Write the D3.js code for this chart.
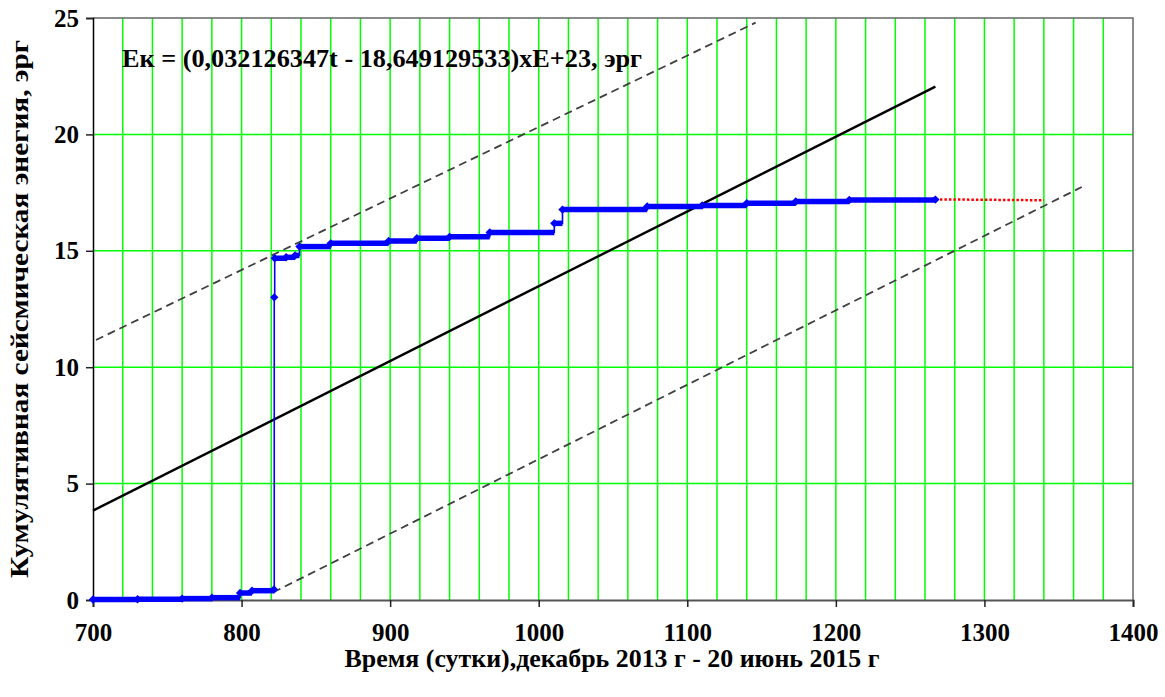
<!DOCTYPE html>
<html>
<head>
<meta charset="utf-8">
<script src="https://cdn.jsdelivr.net/npm/d3@7/dist/d3.min.js"></script>
<style>
  body { margin: 0; background: #fff; }
</style>
</head>
<body>
<svg id="chart" width="1165" height="697"></svg>
<script>
// Axis ticks
const dayTicks = [700, 800, 900, 1000, 1100, 1200, 1300, 1400];
const energyTicks = [0, 5, 10, 15, 20, 25];
const dayGridStep = 20;

// Cumulative seismic energy (×1E+23 erg) against time in days
const obsDays   = [700, 730, 760, 780, 799, 807, 821.8, 822, 822.3, 830, 836, 839, 860, 899, 918, 940, 967, 1010.5, 1016, 1073, 1110, 1140, 1173, 1209, 1267];
const obsEnergy = [0.02, 0.03, 0.06, 0.10, 0.30, 0.40, 0.45, 13.0, 14.68, 14.72, 14.80, 15.18, 15.32, 15.42, 15.54, 15.60, 15.79, 16.18, 16.77, 16.90, 16.95, 17.04, 17.12, 17.18, 17.20];

// Linear trend Ek = (a·t + b)×E+23
const trendSlope = 0.032126347;
const trendIntercept = -18.649129533;
const trendDays = [700, 1267];

// Upper and lower envelope lines
const upperDays = [702, 1146];
const upperEnergy = [11.17, 24.80];
const lowerDays = [821.3, 1365.5];
const lowerEnergy = [0.33, 17.74];

// Extension of the last level
const forecastDays = [1267, 1340];
const forecastEnergy = [17.21, 17.17];

const FONT = '"Liberation Serif", "Times New Roman", serif';
const svg = d3.select("#chart");
const L = 93, R = 1133, T = 18, B = 600;

const x = d3.scaleLinear().domain([700, 1400]).range([L, R]);
const y = d3.scaleLinear().domain([0, 25]).range([B, T]);

// grid
const gridDays = d3.range(700 + dayGridStep, 1400, dayGridStep);
svg.append("g").selectAll("line").data(gridDays).join("line")
  .attr("x1", d => x(d)).attr("x2", d => x(d))
  .attr("y1", T).attr("y2", B)
  .attr("stroke", "#00ff00").attr("stroke-width", 1.5);
svg.append("g").selectAll("line").data(energyTicks.filter(d => d > 0 && d < 25)).join("line")
  .attr("x1", L).attr("x2", R)
  .attr("y1", d => y(d)).attr("y2", d => y(d))
  .attr("stroke", "#00ff00").attr("stroke-width", 1.5);

// frame
svg.append("path")
  .attr("d", `M${L},${T}H${R}V${B}`)
  .attr("fill", "none").attr("stroke", "#666").attr("stroke-width", 1.5);

// axes
const xAxis = svg.append("g").attr("transform", `translate(0,${B})`)
  .call(d3.axisBottom(x).tickValues(dayTicks).tickSize(7).tickPadding(16).tickFormat(d3.format("d")));
xAxis.select(".domain").attr("stroke", "#555").attr("stroke-width", 2);
xAxis.selectAll(".tick line").attr("stroke", "#222").attr("stroke-width", 1.5);
xAxis.selectAll("text")
  .style("font-family", FONT).style("font-weight", "bold").style("font-size", "25px").attr("fill", "#000");

const yAxis = svg.append("g").attr("transform", `translate(${L},0)`)
  .call(d3.axisLeft(y).tickValues(energyTicks).tickSize(7).tickPadding(7).tickFormat(d3.format("d")));
yAxis.select(".domain").attr("stroke", "#000").attr("stroke-width", 1.5);
yAxis.selectAll(".tick line").attr("stroke", "#222").attr("stroke-width", 1.5);
yAxis.selectAll("text")
  .style("font-family", FONT).style("font-weight", "bold").style("font-size", "25px").attr("fill", "#000");

const line = d3.line().x(d => x(d[0])).y(d => y(d[1]));

// envelopes
svg.append("path").datum(d3.zip(upperDays, upperEnergy)).attr("d", line)
  .attr("fill", "none").attr("stroke", "#404040").attr("stroke-width", 1.8).attr("stroke-dasharray", "8,5");
svg.append("path").datum(d3.zip(lowerDays, lowerEnergy)).attr("d", line)
  .attr("fill", "none").attr("stroke", "#404040").attr("stroke-width", 1.8).attr("stroke-dasharray", "8,5");

// trend
svg.append("path").datum(trendDays.map(t => [t, trendSlope * t + trendIntercept])).attr("d", line)
  .attr("fill", "none").attr("stroke", "#000").attr("stroke-width", 2.4);

// forecast
svg.append("path").datum(d3.zip(forecastDays, forecastEnergy)).attr("d", line)
  .attr("fill", "none").attr("stroke", "#ff0000").attr("stroke-width", 2.5).attr("stroke-dasharray", "2.5,2");

// observed energy: thin step line, thick horizontal runs, diamond markers
const obs = d3.zip(obsDays, obsEnergy);
svg.append("path").datum(obs)
  .attr("d", d3.line().curve(d3.curveStepAfter).x(d => x(d[0])).y(d => y(d[1])))
  .attr("fill", "none").attr("stroke", "#0000ff").attr("stroke-width", 1.6);
svg.append("g").selectAll("line").data(obs.slice(0, -1)).join("line")
  .attr("x1", d => x(d[0])).attr("x2", (d, i) => x(obs[i + 1][0]))
  .attr("y1", d => y(d[1])).attr("y2", d => y(d[1]))
  .attr("stroke", "#0000ff").attr("stroke-width", 5.5);
svg.append("g").selectAll("path").data(obs).join("path")
  .attr("transform", d => `translate(${x(d[0])},${y(d[1])})`)
  .attr("d", d3.symbol(d3.symbolDiamond2, 45))
  .attr("fill", "#0000ff");

// labels
const label = (sel) => sel.style("font-family", FONT).style("font-weight", "bold").attr("fill", "#000");

svg.append("text").call(label)
  .attr("x", 122).attr("y", 67)
  .style("font-size", "25px")
  .attr("textLength", 520).attr("lengthAdjust", "spacingAndGlyphs")
  .text("Ек = (0,032126347t - 18,649129533)хЕ+23, эрг");

svg.append("text").call(label)
  .attr("x", 612).attr("y", 667)
  .attr("text-anchor", "middle")
  .style("font-size", "25px")
  .attr("textLength", 535).attr("lengthAdjust", "spacingAndGlyphs")
  .text("Время (сутки),декабрь 2013 г - 20 июнь 2015 г");

svg.append("text").call(label)
  .attr("transform", "translate(28,309) rotate(-90)")
  .attr("text-anchor", "middle")
  .style("font-size", "25px")
  .attr("textLength", 538).attr("lengthAdjust", "spacingAndGlyphs")
  .text("Кумулятивная сейсмическая энегия, эрг");
</script>
</body>
</html>
